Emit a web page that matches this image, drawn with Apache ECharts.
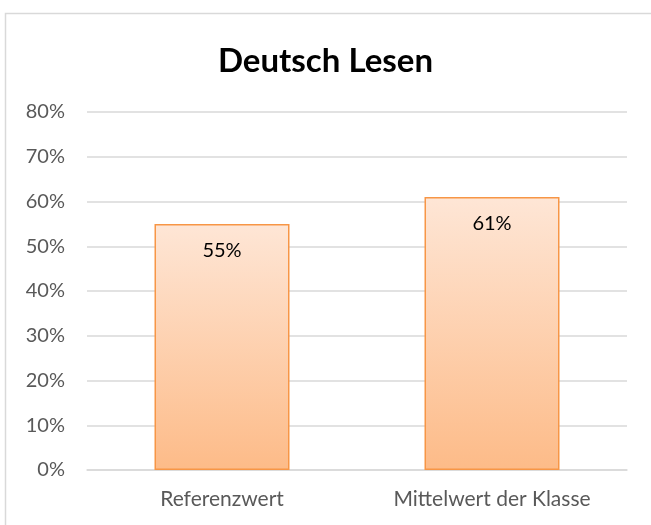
<!DOCTYPE html>
<html><head><meta charset="utf-8">
<script src="https://cdn.jsdelivr.net/npm/echarts@6/dist/echarts.min.js"></script>
<style>html,body{margin:0;padding:0;background:#fff}#c{width:651px;height:525px}</style>
</head><body><div id="c"></div>
<script>
var categories = ['Referenzwert', 'Mittelwert der Klasse'];
var values = [0.55, 0.61];
var titleText = 'Deutsch Lesen';
var font = 'Lato, "Open Sans", sans-serif';
var chart = echarts.init(document.getElementById('c'), null, {renderer: 'canvas'});
chart.setOption({
  animation: false,
  backgroundColor: '#fff',
  title: {text: titleText, left: 'center', top: 40, textStyle: {fontFamily: font, fontSize: 33, fontWeight: 'bold', color: '#000'}},
  graphic: [{type: 'rect', shape: {x: 5.5, y: 13.5, width: 700, height: 600}, style: {fill: 'none', stroke: '#d9d9d9', lineWidth: 1.5}, silent: true}],
  grid: {left: 87, right: 24, top: 112, bottom: 55, containLabel: false},
  xAxis: {type: 'category', data: categories,
    axisLine: {lineStyle: {color: '#d9d9d9', width: 1.5}}, axisTick: {show: false},
    axisLabel: {fontFamily: font, fontSize: 21, color: '#595959', margin: 19}},
  yAxis: {type: 'value', min: 0, max: 0.8, interval: 0.1,
    axisLine: {show: false}, axisTick: {show: false},
    splitLine: {lineStyle: {color: '#d9d9d9', width: 1.5}},
    axisLabel: {fontFamily: font, fontSize: 20, color: '#595959', margin: 22,
      formatter: function (v) { return Math.round(v * 100) + '%'; }}},
  series: [{type: 'bar', data: values, barWidth: '50%',
    itemStyle: {
      color: new echarts.graphic.LinearGradient(0, 0, 0, 1, [{offset: 0, color: '#fee6d6'}, {offset: 1, color: '#fdbb88'}]),
      borderColor: '#f79646', borderWidth: 1.5},
    label: {show: true, position: 'insideTop', distance: 17, fontFamily: font, fontSize: 20, color: '#000',
      formatter: function (p) { return Math.round(p.value * 100) + '%'; }}}]
});
</script></body></html>
